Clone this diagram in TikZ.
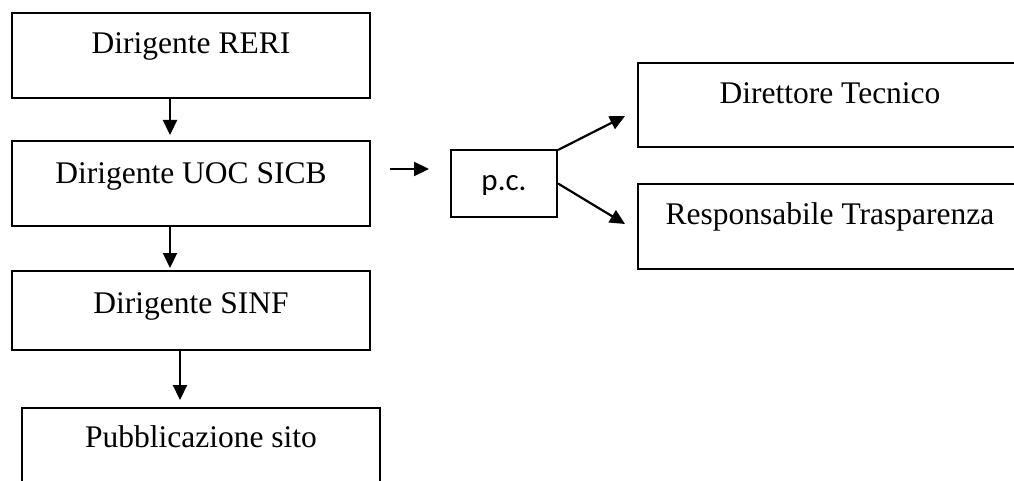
\documentclass[tikz,border=0pt]{standalone}
\usepackage{fontspec}
\setmainfont{Liberation Serif}
\newfontfamily\calibrifont{Carlito}
\usetikzlibrary{arrows.meta}

\tikzset{
  box/.style={draw, line width=2pt, inner sep=0pt, anchor=north,
    font=\fontsize{31.5}{37}\selectfont},
  pcbox/.style={box, font=\calibrifont\fontsize{31}{36}\selectfont},
  arr/.style={line width=2.2pt, -{Triangle[length=15pt,width=14pt]}}
}

\begin{document}
\begin{tikzpicture}[x=1pt, y=-1pt]
  \useasboundingbox (0,0) rectangle (1014,481);
  \clip (0,0) rectangle (1014,481);

  % left column
  \node[box, minimum width=358pt, text height=40.7pt, text depth=44.3pt] (reri) at (191,12) {Dirigente RERI};
  \node[box, minimum width=358pt, text height=42.7pt, text depth=42.3pt] (uoc) at (191,140) {Dirigente UOC SICB};
  \node[box, minimum width=358pt, text height=42.7pt, text depth=36.3pt] (sinf) at (191,270) {Dirigente SINF};
  \node[box, minimum width=358pt, text height=39pt, text depth=44pt] (sito) at (201,407) {Pubblicazione sito};

  % copy to
  \node[pcbox, minimum width=106pt, text height=41pt, text depth=26pt] (pc) at (504,149) {p.c.};
  \node[box, minimum width=384pt, text height=41pt, text depth=43pt] (dt) at (830,62) {Direttore Tecnico};
  \node[box, minimum width=384pt, text height=41pt, text depth=44pt] (rt) at (830,183) {Responsabile Trasparenza};

  \draw[arr] ([xshift=-21pt]reri.south) -- ([xshift=-21pt,yshift=5pt]uoc.north);
  \draw[arr] ([xshift=-21pt]uoc.south) -- ([xshift=-21pt,yshift=2pt]sinf.north);
  \draw[arr] ([xshift=-11pt]sinf.south) -- ([xshift=-21pt,yshift=7pt]sito.north);
  \draw[arr] ([xshift=19pt,yshift=14.5pt]uoc.east) -- ([xshift=-21pt,yshift=14.5pt]pc.west);
  \draw[arr] ([yshift=-1pt]pc.north east) -- ([xshift=-12pt,yshift=-11pt]dt.west);
  \draw[arr] (pc.east) -- ([xshift=-12pt,yshift=2.5pt]rt.west);
\end{tikzpicture}
\end{document}
